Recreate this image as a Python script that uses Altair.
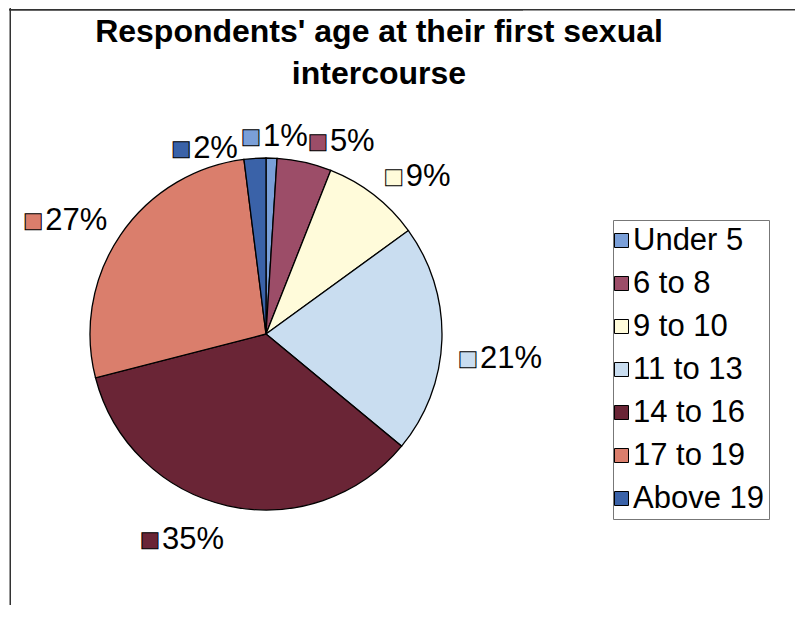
import math
import altair as alt
import pandas as pd

# ---- data ----
categories = ["Under 5", "6 to 8", "9 to 10", "11 to 13", "14 to 16", "17 to 19", "Above 19"]
percent = [1, 5, 9, 21, 35, 27, 2]
labels = ["1%", "5%", "9%", "21%", "35%", "27%", "2%"]
colors = ["#7A9FD8", "#9C4D68", "#FFFBDA", "#C9DDF0", "#6A2536", "#DA7E6C", "#3A62A8"]

df = pd.DataFrame({"cat": categories, "pct": percent, "label": labels,
                   "idx": list(range(len(categories)))})

W, H = 514, 468
FONT = "Liberation Sans, Arial, sans-serif"
R = 176
LR = 192
FS = 31

theta_scale = alt.Scale(domain=[0, 100], range=[0, 2 * math.pi])
color_enc = alt.Color(
    "cat:N",
    sort=categories,
    scale=alt.Scale(domain=categories, range=colors),
    legend=alt.Legend(
        title=None, orient="none", legendX=604, legendY=120,
        symbolType="square", symbolSize=196, symbolStrokeColor="black",
        symbolStrokeWidth=1, symbolOpacity=1, symbolOffset={"expr": "-12"},
        labelFont=FONT, labelFontSize=FS, labelColor="black",
        rowPadding=11, padding=5, strokeColor="#777",
        labelOffset={"expr": "-4"}, labelLimit=300,
    ),
)

base = alt.Chart(df).transform_window(
    cum="sum(pct)", sort=[alt.SortField("idx")], frame=[None, 0]
).transform_calculate(
    start="datum.cum - datum.pct",
    mid="datum.cum - datum.pct / 2",
)

pie = base.mark_arc(outerRadius=R, stroke="black", strokeWidth=1.3).encode(
    theta=alt.Theta("start:Q", scale=theta_scale),
    theta2="cum:Q",
    color=color_enc,
    order=alt.Order("idx:Q"),
)

lab = base.transform_calculate(
    ang="datum.mid / 100 * 2 * PI",
    tw="(length(datum.label) - 1) * 17.2 + 27.6",
    ndx="datum.cat == 'Under 5' ? -31 : (datum.cat == 'Above 19' ? -16 : 0)",
    ndy="datum.cat == 'Under 5' ? 0 : (datum.cat == 'Above 19' ? 12 : 0)",
).transform_calculate(
    vdy="cos(datum.ang) >= 0 ? -5 : 19",
)

txt = lab.mark_text(
    radius=LR, baseline="middle", font=FONT, fontSize=FS, color="black",
    align={"expr": "datum.mid < 50 ? 'left' : 'right'"},
    dx={"expr": "datum.mid < 50 ? 22 + datum.ndx : datum.ndx"},
    dy={"expr": "datum.vdy + datum.ndy"},
).encode(
    theta=alt.Theta("mid:Q", scale=theta_scale),
    text="label:N",
)

sq = lab.mark_text(
    radius=LR, baseline="middle", align="left", text="\u25a0",
    font="DejaVu Sans", fontSize=21, stroke="black", strokeWidth=1,
    dx={"expr": "datum.mid < 50 ? datum.ndx : datum.ndx - datum.tw - 22"},
    dy={"expr": "datum.vdy + datum.ndy"},
).encode(
    theta=alt.Theta("mid:Q", scale=theta_scale),
    color=color_enc,
)

one = pd.DataFrame({"k": [0]})
frame_left = alt.Chart(one).mark_rect(color="#333").encode(
    x=alt.value(0.5), x2=alt.value(2), y=alt.value(-92), y2=alt.value(505)
)
frame_top = alt.Chart(one).mark_rect(color="#333").encode(
    x=alt.value(0.5), x2=alt.value(786), y=alt.value(-91), y2=alt.value(-89.5)
)
frame_top_rule = alt.Chart(one).mark_rule(color="#333", strokeWidth=1.5).encode(
    y=alt.value(-90.25)
)

chart = alt.layer(frame_left, frame_top, frame_top_rule, pie, sq, txt).properties(
    width=W, height=H, padding=0, background="white",
    title=alt.TitleParams(
        text=["Respondents' age at their first sexual", "intercourse"],
        font=FONT, fontSize=32, fontWeight="bold", color="black",
        anchor="middle", frame="group", dx=113, offset=-83, lineHeight=42,
    ),
).configure_view(stroke=None)

chart.save("out.html", embed_options={"renderer": "svg", "actions": False})
